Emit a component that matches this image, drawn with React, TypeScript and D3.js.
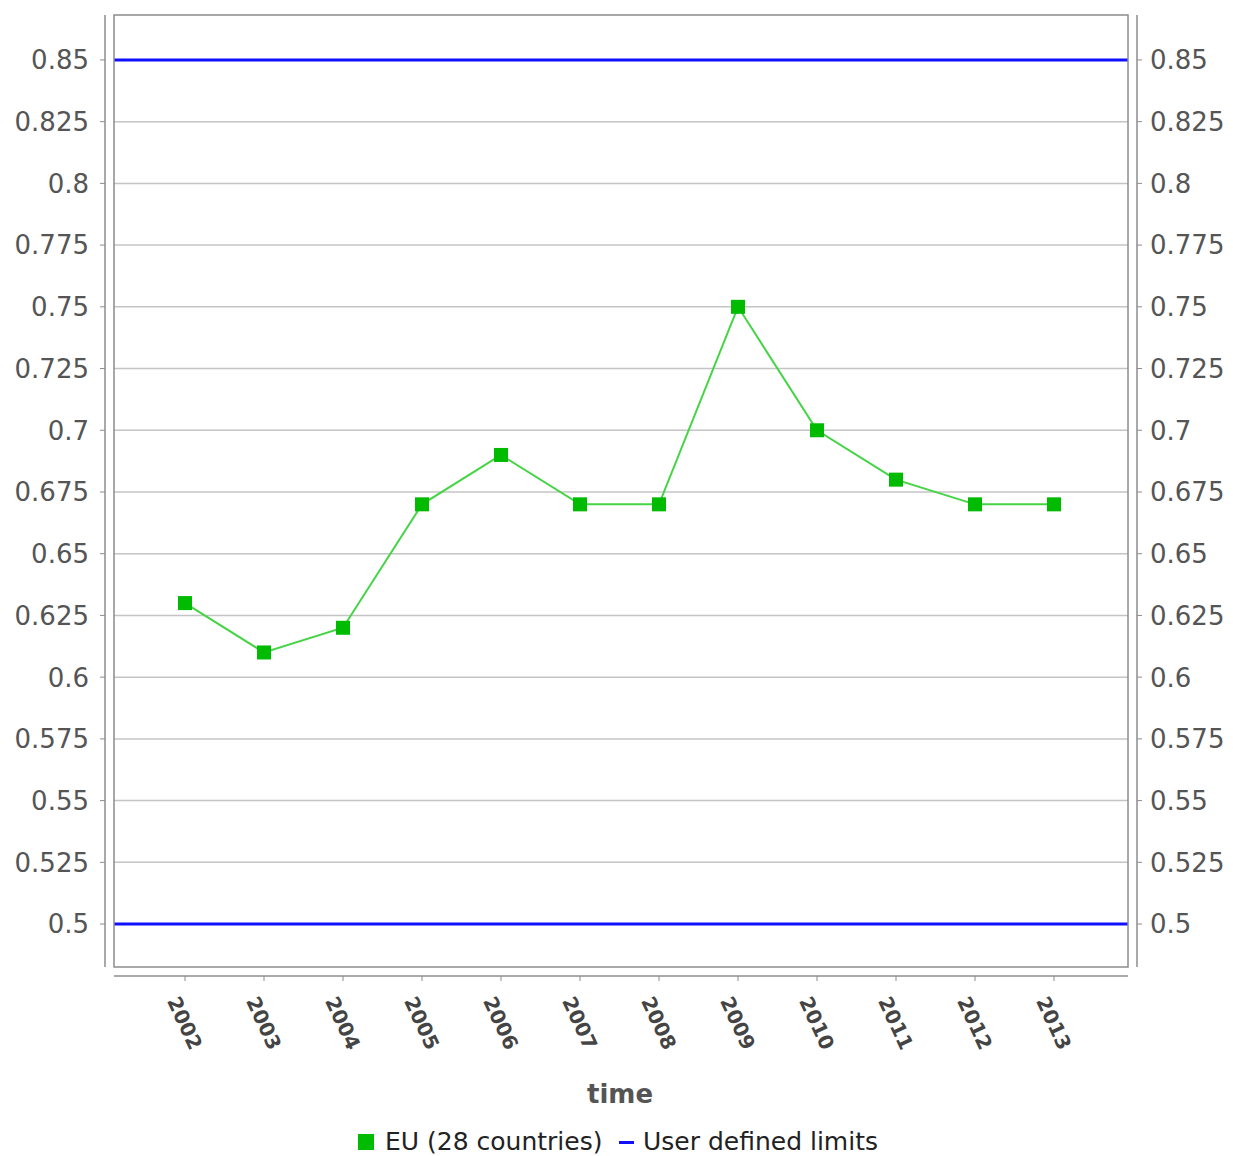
import React from "react";
import * as d3 from "d3";

const years = ["2002","2003","2004","2005","2006","2007","2008","2009","2010","2011","2012","2013"];
const euValues = [0.63, 0.61, 0.62, 0.67, 0.69, 0.67, 0.67, 0.75, 0.70, 0.68, 0.67, 0.67];
const limits = [0.5, 0.85];
const yTicks = [0.5,0.525,0.55,0.575,0.6,0.625,0.65,0.675,0.7,0.725,0.75,0.775,0.8,0.825,0.85];
const seriesName = "EU (28 countries)";
const limitName = "User defined limits";
const xTitle = "time";

const W = 1233, H = 1156;
const plot = { left: 114, right: 1128, top: 15, bottom: 967 };
const FONT = "'DejaVu Sans', sans-serif";

export default function App() {
  const y = d3.scaleLinear().domain([0.4826, 0.8682]).range([plot.bottom, plot.top]);
  const x = d3.scalePoint<string>().domain(years).range([plot.left + 71, plot.right - 74]);
  const line = d3.line<number>().x((_, i) => x(years[i])!).y(d => y(d));
  const fmt = (v: number) => String(+v.toFixed(3));

  return (
    <svg width={W} height={H} style={{ position: "absolute", left: 0, top: 0, background: "#fff" }} fontFamily={FONT}>
      {/* grid */}
      {yTicks.map(t => (
        <line key={"g" + t} x1={plot.left} x2={plot.right} y1={y(t)} y2={y(t)} stroke="#c4c4c4" strokeWidth={1.5} />
      ))}
      {/* limits */}
      {limits.map(l => (
        <line key={"l" + l} x1={plot.left} x2={plot.right} y1={y(l)} y2={y(l)} stroke="#1010ff" strokeWidth={3} />
      ))}
      {/* plot border */}
      <rect x={plot.left} y={plot.top} width={plot.right - plot.left} height={plot.bottom - plot.top} fill="none" stroke="#8c8c8c" strokeWidth={1.5} />
      {/* left axis */}
      <line x1={105} x2={105} y1={plot.top} y2={plot.bottom} stroke="#8c8c8c" strokeWidth={1.5} />
      {yTicks.map(t => (
        <g key={"ly" + t}>
          <line x1={100} x2={105} y1={y(t)} y2={y(t)} stroke="#8c8c8c" strokeWidth={1} />
          <text x={89} y={y(t)} dy="0.36em" textAnchor="end" fontSize={26} fill="#555">{fmt(t)}</text>
        </g>
      ))}
      {/* right axis */}
      <line x1={1137} x2={1137} y1={plot.top} y2={plot.bottom} stroke="#8c8c8c" strokeWidth={1.5} />
      {yTicks.map(t => (
        <g key={"ry" + t}>
          <line x1={1137} x2={1142} y1={y(t)} y2={y(t)} stroke="#8c8c8c" strokeWidth={1} />
          <text x={1150} y={y(t)} dy="0.36em" textAnchor="start" fontSize={26} fill="#555">{fmt(t)}</text>
        </g>
      ))}
      {/* bottom axis */}
      <line x1={plot.left} x2={plot.right} y1={976} y2={976} stroke="#8c8c8c" strokeWidth={1.5} />
      {years.map(yr => (
        <g key={"x" + yr}>
          <line x1={x(yr)} x2={x(yr)} y1={976} y2={981} stroke="#8c8c8c" strokeWidth={1} />
          <text transform={`translate(${x(yr)},${1023}) rotate(65)`} dy="0.36em" textAnchor="middle" fontSize={20} fontWeight="bold" fill="#444">{yr}</text>
        </g>
      ))}
      <text x={620} y={1103} textAnchor="middle" fontSize={26} fontWeight="bold" fill="#555">{xTitle}</text>
      {/* series */}
      <path d={line(euValues)!} fill="none" stroke="#44d444" strokeWidth={2} />
      {euValues.map((v, i) => (
        <rect key={"m" + i} x={x(years[i])! - 7} y={y(v) - 7} width={14} height={14} fill="#00bb00" />
      ))}
      {/* legend */}
      <rect x={358} y={1134} width={16} height={16} fill="#00bb00" />
      <text x={385} y={1150} fontSize={25} fill="#222">{seriesName}</text>
      <rect x={619} y={1141} width={15} height={3} fill="#1010ff" />
      <text x={643} y={1150} fontSize={25} fill="#222">{limitName}</text>
    </svg>
  );
}
